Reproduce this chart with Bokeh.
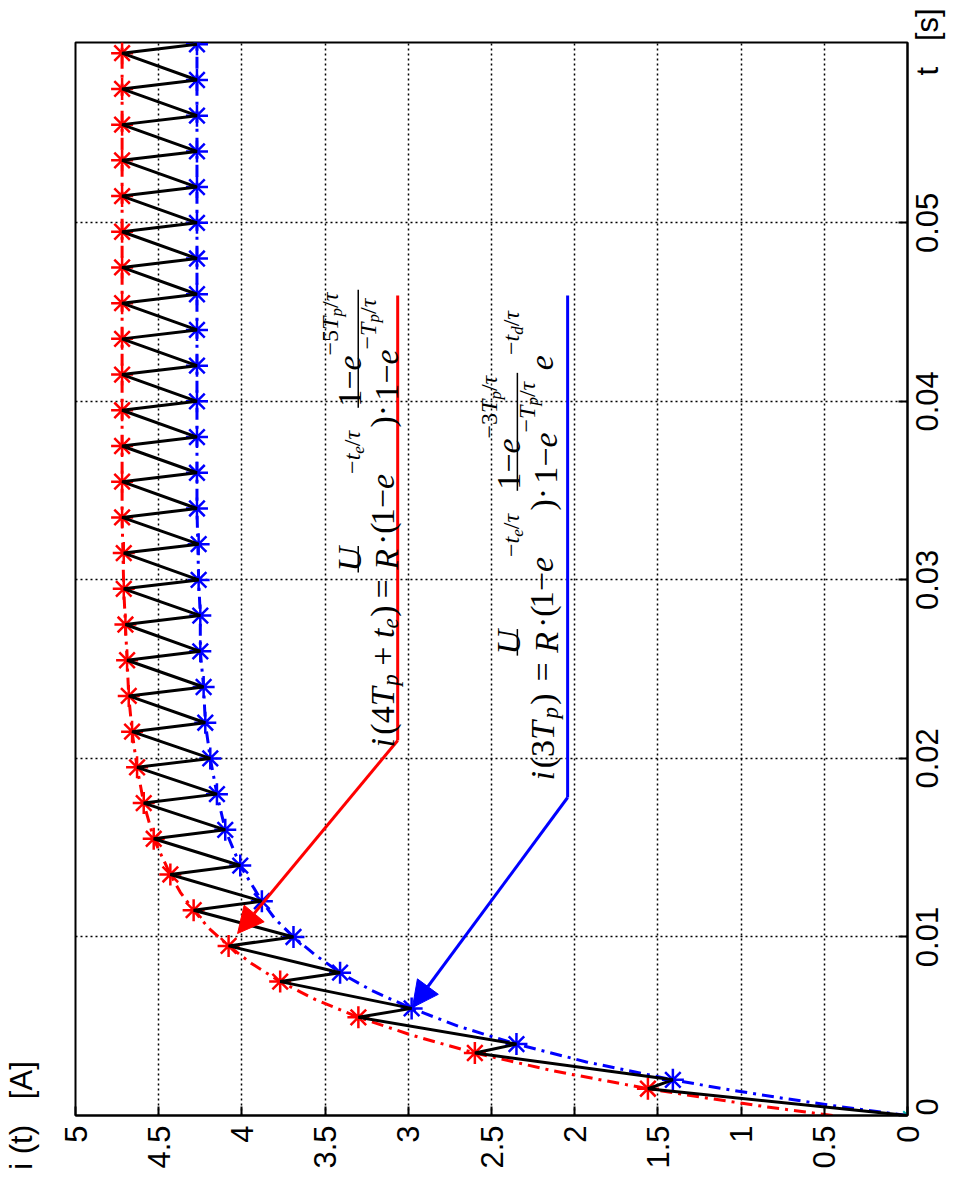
import math
from bokeh.plotting import figure
from bokeh.models import (Range1d, FixedTicker, Label, Arrow, NormalHead, CustomJSTickFormatter,
                          LinearAxis)
from bokeh.embed import file_html
from bokeh.resources import INLINE

NB = "\u00a0"
# ---------------- data ----------------
t_ticks = [0, 0.01, 0.02, 0.03, 0.04, 0.05]
t_tick_labels = ["0", "0.01", "0.02", "0.03", "0.04", "0.05"]
i_ticks = [0, 0.5, 1, 1.5, 2, 2.5, 3, 3.5, 4, 4.5, 5]
t_label = "t" + NB * 3 + "[s]"
i_label = "i" + NB + "(t)" + NB * 3 + "[A]"

# current peaks (red stars)
peak_t = [0.0015, 0.0035, 0.0055, 0.0075, 0.0095, 0.0115, 0.0135, 0.0155, 0.0175, 0.0195,
          0.0215, 0.0235, 0.0255, 0.0275, 0.0295, 0.0315, 0.0335, 0.0355, 0.0375, 0.0395,
          0.0415, 0.0435, 0.0455, 0.0475, 0.0495, 0.0515, 0.0535, 0.0555, 0.0575, 0.0595]
peak_i = [1.56, 2.60, 3.30, 3.77, 4.08, 4.29, 4.43, 4.53, 4.59, 4.63,
          4.66, 4.68, 4.69, 4.70, 4.71, 4.71, 4.72, 4.72, 4.72, 4.72,
          4.72, 4.72, 4.72, 4.72, 4.72, 4.72, 4.72, 4.72, 4.72, 4.72]
# current valleys (blue stars)
valley_t = [0.002, 0.004, 0.006, 0.008, 0.010, 0.012, 0.014, 0.016, 0.018, 0.020,
            0.022, 0.024, 0.026, 0.028, 0.030, 0.032, 0.034, 0.036, 0.038, 0.040,
            0.042, 0.044, 0.046, 0.048, 0.050, 0.052, 0.054, 0.056, 0.058, 0.060]
valley_i = [1.41, 2.35, 2.98, 3.41, 3.69, 3.88, 4.01, 4.10, 4.15, 4.19,
            4.22, 4.23, 4.25, 4.25, 4.26, 4.26, 4.27, 4.27, 4.27, 4.27,
            4.27, 4.27, 4.27, 4.27, 4.27, 4.27, 4.27, 4.27, 4.27, 4.27]
# dash-dot envelope through the peaks
peak_env_t = [0, 0.0005, 0.001, 0.0015, 0.0025, 0.0035, 0.0045, 0.0055, 0.0065, 0.0075,
              0.0085, 0.0095, 0.0105, 0.0115, 0.0125, 0.0135, 0.0155, 0.0175, 0.0195, 0.0215,
              0.0235, 0.0255, 0.0275, 0.0295, 0.0335, 0.060]
peak_env_i = [0.45, 0.86, 1.22, 1.56, 2.13, 2.60, 2.98, 3.30, 3.56, 3.77,
              3.94, 4.08, 4.20, 4.29, 4.37, 4.43, 4.53, 4.59, 4.63, 4.66,
              4.68, 4.69, 4.70, 4.71, 4.72, 4.72]
# dash-dot envelope through the valleys
valley_env_t = [0, 0.0005, 0.001, 0.0015, 0.002, 0.003, 0.004, 0.005, 0.006, 0.007,
                0.008, 0.009, 0.010, 0.011, 0.012, 0.014, 0.016, 0.018, 0.020, 0.022,
                0.024, 0.026, 0.028, 0.030, 0.034, 0.060]
valley_env_i = [0, 0.41, 0.77, 1.11, 1.41, 1.93, 2.35, 2.70, 2.98, 3.22,
                3.41, 3.56, 3.69, 3.80, 3.88, 4.01, 4.10, 4.15, 4.19, 4.22,
                4.23, 4.25, 4.25, 4.26, 4.27, 4.27]

# black sawtooth current built from the peak / valley lists
cur_t, cur_i = [0.0], [0.0]
for a, b, c, d in zip(peak_t, peak_i, valley_t, valley_i):
    cur_t += [a, c]
    cur_i += [b, d]

# ---------------- figure ----------------
TMAX = 0.0601
IMAX = 5.0
W, H = 965, 1180
FL, FR, FT, FB = 72, 919, 42, 1115   # frame edges in canvas pixels
TICK_FS = 31
PX_PER_T = (FB - FT) / TMAX


def xi(px):
    return IMAX * (FR - px) / (FR - FL)


def yt(py):
    return TMAX * (FB - py) / (FB - FT)


SANS_W = {'0': .556, '1': .556, '2': .556, '3': .556, '4': .556, '5': .556, '.': .278,
          't': .278, NB: .278, '[': .278, ']': .278, 's': .5}


def sans_len(s):
    return sum(SANS_W.get(c, .556) for c in s) * TICK_FS


p = figure(width=W, height=H, x_range=Range1d(IMAX, 0), y_range=Range1d(0, TMAX),
           y_axis_location="right", output_backend="svg", toolbar_location=None,
           min_border_left=FL, min_border_right=W - FR,
           min_border_top=FT, min_border_bottom=H - FB)
p.background_fill_color = "white"
p.border_fill_color = "white"
p.outline_line_color = "black"
p.outline_line_width = 2

for ax, ticks in ((p.xaxis, i_ticks), (p.yaxis, t_ticks)):
    ax.ticker = FixedTicker(ticks=ticks)
    ax.major_tick_in = 9
    ax.major_tick_out = 0
    ax.major_tick_line_width = 2
    ax.major_tick_line_color = "black"
    ax.minor_tick_line_color = None
    ax.axis_line_width = 2
    ax.axis_line_color = "black"

p.xaxis.formatter = CustomJSTickFormatter(code="return String(tick);")
p.xaxis.major_label_orientation = math.pi / 2
p.xaxis.major_label_text_font = "Liberation Sans"
p.xaxis.major_label_text_font_size = "%dpx" % TICK_FS
p.xaxis.major_label_text_color = "black"
p.xaxis.major_label_standoff = 10

# right axis: tick marks only
p.yaxis.formatter = CustomJSTickFormatter(code="return '';")
p.yaxis.major_label_text_font_size = "0px"
p.yaxis.major_label_standoff = 0

# second right axis carrying the time labels (rotated text starts at its anchor,
# so each anchor sits half a label length below the tick it names)
r_labels = t_tick_labels + [t_label]
r_pos = [max(0.0, tv - 0.5 * sans_len(s) / PX_PER_T) for tv, s in zip(t_ticks, t_tick_labels)]
r_pos.append(yt(75))
lab_r = LinearAxis(ticker=FixedTicker(ticks=r_pos),
                   formatter=CustomJSTickFormatter(args=dict(labs=r_labels), code="return labs[index];"),
                   major_label_orientation=math.pi / 2, major_label_standoff=14,
                   major_label_text_font="Liberation Sans",
                   major_label_text_font_size="%dpx" % TICK_FS,
                   major_label_text_color="black", axis_line_color=None,
                   major_tick_line_color=None, minor_tick_line_color=None)
p.add_layout(lab_r, "right")

# left axis only carries the current label at the lower left corner
lab_l = LinearAxis(ticker=FixedTicker(ticks=[0]),
                   formatter=CustomJSTickFormatter(args=dict(lab=i_label), code="return lab;"),
                   major_label_orientation="parallel", major_label_standoff=31,
                   major_label_text_font="Liberation Sans",
                   major_label_text_font_size="%dpx" % TICK_FS,
                   major_label_text_color="black", axis_line_color=None,
                   major_tick_line_color=None, minor_tick_line_color=None)
p.add_layout(lab_l, "left")

for g in (p.xgrid, p.ygrid):
    g.grid_line_color = "black"
    g.grid_line_dash = "2 3"
    g.grid_line_width = 1.5
    g.grid_line_alpha = 1.0

RED = "#ff0000"
BLUE = "#0000ff"

# envelopes
p.line(x=peak_env_i, y=peak_env_t, line_color=RED, line_width=3, line_dash="12 6 3 6")
p.line(x=valley_env_i, y=valley_env_t, line_color=BLUE, line_width=3, line_dash="12 6 3 6")
p.scatter(x=peak_i, y=peak_t, marker="asterisk", size=22, line_width=2.5, color=RED)
p.scatter(x=valley_i, y=valley_t, marker="asterisk", size=22, line_width=2.5, color=BLUE)
p.scatter(x=[0], y=[0], marker="asterisk", size=12, line_width=2, color="#00b0b0")
# sawtooth current
p.line(x=cur_i, y=cur_t, line_color="black", line_width=3)

# ---------------- arrows ----------------
for col, top, corner, tip in ((RED, (400, 295), (400, 740), (237, 933)),
                              (BLUE, (573, 295), (573, 797), (415, 1007))):
    p.line(x=[xi(top[0]), xi(corner[0])], y=[yt(top[1]), yt(corner[1])],
           line_color=col, line_width=3)
    p.add_layout(Arrow(end=NormalHead(size=26, fill_color=col, line_color=col, line_width=1),
                       x_start=xi(corner[0]), y_start=yt(corner[1]),
                       x_end=xi(tip[0]), y_end=yt(tip[1]),
                       line_color=col, line_width=3))

# ---------------- formulas (rotated, composed of pieces) ----------------
FS = 34
REG_W = {' ': 0.25, NB: 0.25, '(': 0.333, ')': 0.333, '+': 0.564, '=': 0.564, '\u2212': 0.564,
         '\u00b7': 0.25, '/': 0.278}
ITA_W = {'i': 0.278, 'T': 0.556, 'p': 0.5, 't': 0.278, 'e': 0.444, 'U': 0.722,
         'R': 0.611, 'd': 0.5, '\u03c4': 0.44, '/': 0.278}
# level: (font size px, baseline shift in em of the main size)
LEVELS = {"m": (34, 0.0), "sub": (23, -0.24),
          "sup": (24, 0.58), "ss": (17, 0.40),        # exponents inside fractions
          "supm": (24, 0.92), "ssm": (17, 0.74)}      # exponents on the main line
NUM_V, DEN_V, BAR_V = 1.0, -0.12, 0.74


def run_w(text, ital, size):
    tbl = ITA_W if ital else REG_W
    return sum(tbl.get(ch, 0.5) for ch in text) * size


def layout(items, u0, v0, X0, Y0, draw):
    u = u0
    for it in items:
        kind = it[0]
        if kind == "t":
            _, text, ital, lev = it
            size, dv = LEVELS[lev]
            if draw:
                px = X0 - (v0 + dv * FS)
                py = Y0 - u
                p.add_layout(Label(x=xi(px), y=yt(py), text=text, angle=math.pi / 2,
                                   text_font="Liberation Serif",
                                   text_font_style="italic" if ital else "normal",
                                   text_font_size="%dpx" % size, text_color="black",
                                   text_align="left", text_baseline="alphabetic"))
            u += run_w(text, ital, size)
        elif kind == "s":
            u += it[1] * FS
        elif kind == "f":
            _, num, den = it
            wn = layout(num, 0, 0, X0, Y0, False)
            wd = layout(den, 0, 0, X0, Y0, False)
            wb = max(wn, wd) + 0.06 * FS
            if draw:
                layout(num, u + (wb - wn) / 2, v0 + NUM_V * FS, X0, Y0, True)
                layout(den, u + (wb - wd) / 2, v0 + DEN_V * FS, X0, Y0, True)
                bx = X0 - (v0 + BAR_V * FS)
                p.line(x=[xi(bx), xi(bx)], y=[yt(Y0 - u), yt(Y0 - u - wb)],
                       line_color="black", line_width=1.5)
            u += wb + 0.03 * FS
    return u - u0


def T(s, ital=False, lev="m"):
    return ("t", s, ital, lev)


M = "\u2212"
TAU = "\u03c4"


def exp_sup(parts, lev):
    return [T(M, False, lev)] + parts + [T("/", False, lev), T(TAU, True, lev)]


common = ([("s", 0.2), ("f", [T("U", True)], [T("R", True)]), T("\u00b7("), T("1"), T(M),
           T("e", True)]
          + exp_sup([T("t", True, "supm"), T("e", True, "ssm")], "supm")
          + [("s", 0.04), T(")"), T("\u00b7")])

red_formula = ([T("i", True), ("s", 0.1), T("(4"), T("T", True), ("s", 0.05), T("p", True, "sub"),
                ("s", 0.25), T("+"), ("s", 0.25), T("t", True), T("e", True, "sub"), ("s", 0.05),
                T(")"), ("s", 0.2), T("=")]
               + common
               + [("f",
                   [T("1"), T(M), T("e", True)]
                   + exp_sup([T("5", False, "sup"), T("T", True, "sup"), T("p", True, "ss")], "sup"),
                   [T("1"), T(M), T("e", True)]
                   + exp_sup([T("T", True, "sup"), T("p", True, "ss")], "sup"))])

blue_formula = ([T("i", True), ("s", 0.08), T("(3"), T("T", True), ("s", 0.08), T("p", True, "sub"),
                 ("s", 0.06), T(")"), ("s", 0.35), T("=")]
                + common
                + [("f",
                    [T("1"), T(M), T("e", True)]
                    + exp_sup([T("3", False, "sup"), T("T", True, "sup"), T("p", True, "ss")], "sup"),
                    [T("1"), T(M), T("e", True)]
                    + exp_sup([T("T", True, "sup"), T("p", True, "ss")], "sup")),
                   ("s", 0.05), T("e", True)]
                + exp_sup([T("t", True, "supm"), T("d", True, "ssm")], "supm"))

layout(red_formula, 0, 0, 385, 747, True)
layout(blue_formula, 0, 0, 547, 780, True)

open("out.html", "w").write(file_html(p, INLINE))
